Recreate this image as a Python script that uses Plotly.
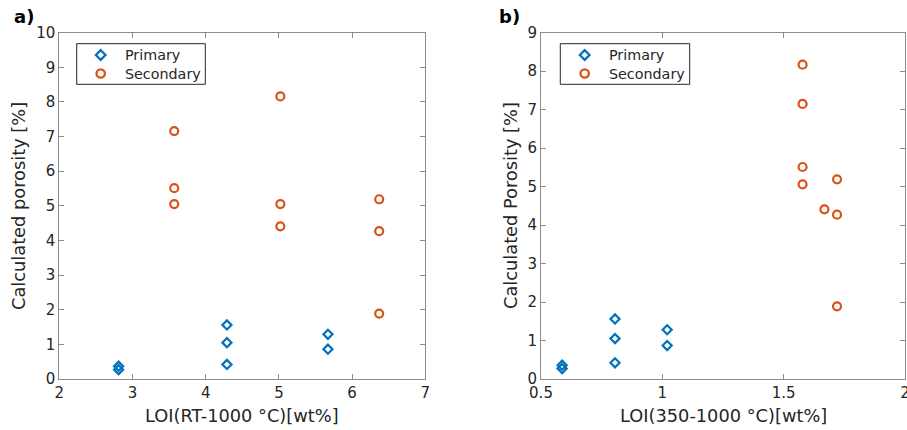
import plotly.graph_objects as go

# Panel a data
a_primary_x = [2.81, 2.81, 4.29, 4.29, 4.29, 5.67, 5.67]
a_primary_y = [0.37, 0.27, 1.56, 1.05, 0.42, 1.29, 0.86]
a_secondary_x = [3.57, 3.57, 3.57, 5.02, 5.02, 5.02, 6.37, 6.37, 6.37]
a_secondary_y = [7.16, 5.51, 5.05, 8.16, 5.05, 4.41, 5.19, 4.27, 1.89]

# Panel b data
b_primary_x = [0.587, 0.587, 0.805, 0.805, 0.805, 1.02, 1.02]
b_primary_y = [0.36, 0.27, 1.56, 1.05, 0.42, 1.28, 0.87]
b_secondary_x = [1.578, 1.578, 1.578, 1.578, 1.668, 1.72, 1.72, 1.72]
b_secondary_y = [8.17, 7.15, 5.51, 5.06, 4.41, 5.19, 4.27, 1.89]

series_names = ["Primary", "Secondary"]

BLUE = "#0072BD"
ORANGE = "#D95319"
TXT = "#262626"
AX = "#8c8c8c"
FONT = "DejaVu Sans"

W, H = 907, 430

fig = go.Figure()

def add_panel(px, py, sx, sy, xa, ya):
    fig.add_trace(go.Scatter(x=px, y=py, mode="markers", name=series_names[0],
                             xaxis=xa, yaxis=ya, showlegend=False,
                             marker=dict(symbol="diamond-open", size=7,
                                         color=BLUE, line=dict(width=2.2, color=BLUE))))
    fig.add_trace(go.Scatter(x=sx, y=sy, mode="markers", name=series_names[1],
                             xaxis=xa, yaxis=ya, showlegend=False,
                             marker=dict(symbol="circle-open", size=8,
                                         color=ORANGE, line=dict(width=2.2, color=ORANGE))))

add_panel(a_primary_x, a_primary_y, a_secondary_x, a_secondary_y, "x", "y")
add_panel(b_primary_x, b_primary_y, b_secondary_x, b_secondary_y, "x2", "y2")

ytop = 1 - 32.7 / H
ybot = 1 - 379 / H

common = dict(showline=True, linecolor=AX, linewidth=1, mirror="ticks",
              ticks="inside", ticklen=5, tickcolor=AX, showgrid=False, zeroline=False,
              automargin=False, ticklabeloverflow="allow",
              tickfont=dict(family=FONT, size=15, color=TXT))

TF = dict(family=FONT, size=17.8, color=TXT)

fig.update_layout(
    width=W, height=H, autosize=False,
    margin=dict(l=0, r=0, t=0, b=0, autoexpand=False),
    paper_bgcolor="white", plot_bgcolor="white",
    showlegend=False,
    xaxis=dict(domain=[59.3 / W, 425.3 / W], range=[2, 7], dtick=1,
               anchor="y", **common),
    yaxis=dict(domain=[ybot, ytop], range=[0, 10], dtick=1,
               anchor="x", **common),
    xaxis2=dict(domain=[541 / W, 905 / W], range=[0.5, 2.0001], tick0=0.5, dtick=0.5,
                anchor="y2", **common),
    yaxis2=dict(domain=[ybot, ytop], range=[0, 9], dtick=1,
                anchor="x2", **common),
)

def px_x(x):
    return x / W

def px_y(y):
    return 1 - y / H

# Axis titles
def title(text, x, y, angle=0):
    fig.add_annotation(text=text, x=px_x(x), y=px_y(y), xref="paper", yref="paper",
                       xanchor="center", yanchor="middle", showarrow=False,
                       textangle=angle, font=TF)

title("LOI(RT-1000 °C)[wt%]", 242.3, 415)
title("Calculated porosity [%]", 18, 206, -90)
title("LOI(350-1000 °C)[wt%]", 723.5, 415)
title("Calculated Porosity [%]", 510, 206, -90)

# Panel labels
fig.add_annotation(text="<b>a)</b>", x=px_x(12), y=px_y(16), xref="paper", yref="paper",
                   xanchor="left", yanchor="middle", showarrow=False,
                   font=dict(family=FONT, size=18, color="black"))
fig.add_annotation(text="<b>b)</b>", x=px_x(497), y=px_y(16), xref="paper", yref="paper",
                   xanchor="left", yanchor="middle", showarrow=False,
                   font=dict(family=FONT, size=18, color="black"))

# Legend boxes (MATLAB style)
def legend(x0, x1, mx, tx):
    y0, y1 = 43.7, 84.3
    fig.add_shape(type="rect", xref="paper", yref="paper",
                  x0=px_x(x0), x1=px_x(x1), y0=px_y(y1), y1=px_y(y0),
                  line=dict(color="#262626", width=1), fillcolor="white", layer="above")
    rows = [55.0, 73.5]
    r = 4.8
    cy = rows[0]
    path = "M {} {} L {} {} L {} {} L {} {} Z".format(
        px_x(mx), px_y(cy - r), px_x(mx + r), px_y(cy), px_x(mx), px_y(cy + r), px_x(mx - r), px_y(cy))
    fig.add_shape(type="path", xref="paper", yref="paper", path=path,
                  line=dict(color=BLUE, width=2.3), layer="above")
    rc = 4.2
    cy = rows[1]
    fig.add_shape(type="circle", xref="paper", yref="paper",
                  x0=px_x(mx - rc), x1=px_x(mx + rc), y0=px_y(cy + rc), y1=px_y(cy - rc),
                  line=dict(color=ORANGE, width=2.3), layer="above")
    for name, yy in zip(series_names, rows):
        fig.add_annotation(text=name, x=px_x(tx), y=px_y(yy), xref="paper", yref="paper",
                           xanchor="left", yanchor="middle", showarrow=False,
                           font=dict(family=FONT, size=14.3, color=TXT))

legend(76.7, 205.3, 100.7, 122.5)
legend(560.3, 689.7, 584.7, 606.5)

fig.write_html("out.html", config={"displayModeBar": False},
               post_script="document.body.style.margin='0';document.body.style.overflow='hidden';")
